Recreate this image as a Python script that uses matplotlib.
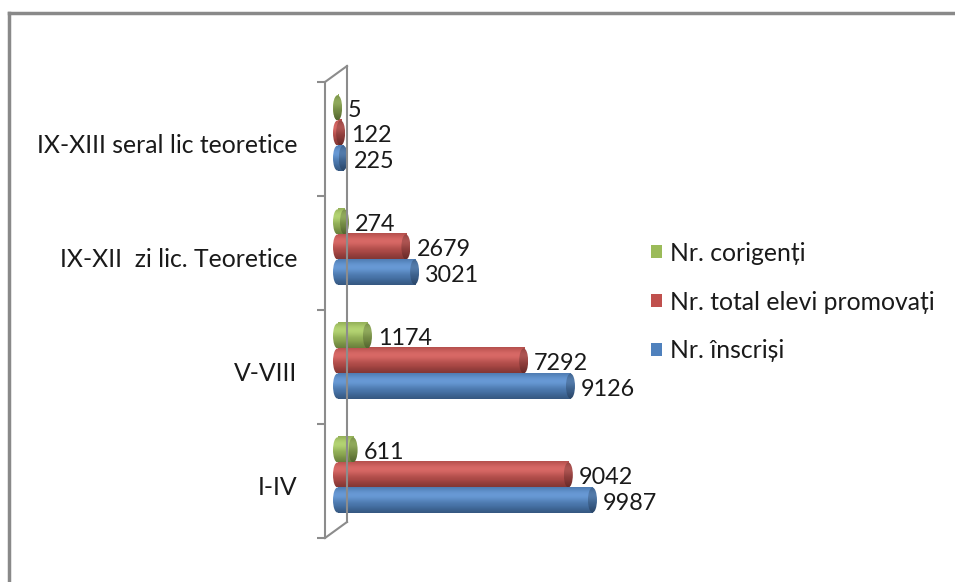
import numpy as np
import matplotlib.pyplot as plt
from matplotlib.patches import Ellipse, Patch
from matplotlib.lines import Line2D
from matplotlib.colors import to_rgb

plt.rcParams['font.family'] = ['Lato', 'DejaVu Sans']

# data
categories = ["I-IV", "V-VIII", "IX-XII  zi lic. Teoretice", "IX-XIII seral lic teoretice"]
inscrisi = [9987, 9126, 3021, 225]
promovati = [9042, 7292, 2679, 122]
corigenti = [611, 1174, 274, 5]
series_names = ["Nr. înscriși", "Nr. total elevi promovați", "Nr. corigenți"]
series_colors = ["#4F81BD", "#C0504D", "#9BBB59"]

W, H = 955, 582
fig = plt.figure(figsize=(W / 100, H / 100), dpi=100)


def fx(px):
    return px / W


def fy(py):
    return 1 - py / H


# pixel layout of the plot area
SPINE_X, ZERO_X, RIGHT_X = 325, 337.5, 635
TOP_Y, BOT_Y = 82, 538
SCALE = 0.02553  # pixels per unit
CAP_PX = 9
TEXT_SIZE = 17.8
NUM_SIZE = 16.8

ax = fig.add_axes([fx(SPINE_X), fy(BOT_Y), fx(RIGHT_X - SPINE_X), (BOT_Y - TOP_Y) / H])
ax.set_facecolor('none')
cap_w = CAP_PX / SCALE


def gradient(color, n=80):
    c = np.array(to_rgb(color))
    t = np.linspace(0, 1, n)
    light = np.exp(-((t - 0.3) / 0.28) ** 2)
    f = 0.85 + 0.25 * light - 0.17 * np.clip((t - 0.72) / 0.28, 0, 1)
    col = c[None, :] * f[:, None]
    col = col + (1 - col) * (0.1 * light)[:, None]
    return np.clip(col, 0, 1)[:, None, :]


def cylinder(y, value, h, color):
    grad = gradient(color)
    ax.imshow(grad, extent=(0, value, y - h / 2, y + h / 2), aspect='auto',
              interpolation='bilinear', zorder=2)
    left = Ellipse((0, y), cap_w, h, transform=ax.transData)
    im = ax.imshow(grad, extent=(-cap_w / 2, 0, y - h / 2, y + h / 2), aspect='auto',
                   interpolation='bilinear', zorder=2)
    im.set_clip_path(left)
    cap = Ellipse((value, y), cap_w, h, transform=ax.transData)
    im2 = ax.imshow(grad * 0.8, extent=(value - cap_w / 2, value + cap_w / 2, y - h / 2, y + h / 2),
                    aspect='auto', interpolation='bilinear', zorder=3)
    im2.set_clip_path(cap)
    ax.annotate(f"{value}", xy=(value, y), xytext=(CAP_PX / 2 + 6, -3),
                textcoords='offset pixels', ha='left', va='center', fontsize=NUM_SIZE,
                color='#1a1a1a', zorder=4)


h = 0.22
offsets = [-0.167, 0.053, 0.273]
for vals, color, off in zip([inscrisi, promovati, corigenti], series_colors, offsets):
    for i, v in enumerate(vals):
        cylinder(i + off, v, h, color)

ax.set_xlim(-(ZERO_X - SPINE_X) / SCALE, (RIGHT_X - ZERO_X) / SCALE)
ax.set_ylim(-0.5, len(categories) - 0.5)

for s in ['top', 'right', 'bottom']:
    ax.spines[s].set_visible(False)
ax.spines['left'].set_color('#8c8c8c')
ax.spines['left'].set_linewidth(1.5)
ax.set_xticks([])
ax.set_yticks(np.arange(len(categories) + 1) - 0.5)
ax.set_yticklabels([])
ax.tick_params(axis='y', which='major', length=6, width=1.5, color='#8c8c8c')
ax.set_yticks(np.arange(len(categories)) - 0.04, minor=True)
ax.set_yticklabels(categories, minor=True, fontsize=TEXT_SIZE, color='#1a1a1a')
ax.tick_params(axis='y', which='minor', length=0, pad=20)

# 3D wall outline
wall = '#8c8c8c'
fig.add_artist(Line2D([fx(347), fx(347)], [fy(66), fy(522)], color=wall, lw=1.5))
fig.add_artist(Line2D([fx(SPINE_X), fx(347)], [fy(TOP_Y), fy(66)], color=wall, lw=1.5))
fig.add_artist(Line2D([fx(SPINE_X), fx(347)], [fy(BOT_Y), fy(522)], color=wall, lw=1.5))

# outer chart frame
fig.add_artist(Line2D([fx(9), fx(W)], [fy(13), fy(13)], color='#898989', lw=2.5))
fig.add_artist(Line2D([fx(9), fx(9)], [fy(13), fy(H)], color='#898989', lw=2.5))

handles = [Patch(facecolor=c, edgecolor='none') for c in series_colors[::-1]]
fig.legend(handles, series_names[::-1], loc='center left',
           bbox_to_anchor=(fx(639), fy(302)), frameon=False, fontsize=TEXT_SIZE,
           handlelength=0.42, handleheight=0.42, handletextpad=0.35, labelspacing=1.05,
           borderpad=0, labelcolor='#1a1a1a')

fig.savefig('out.png', dpi=100)
